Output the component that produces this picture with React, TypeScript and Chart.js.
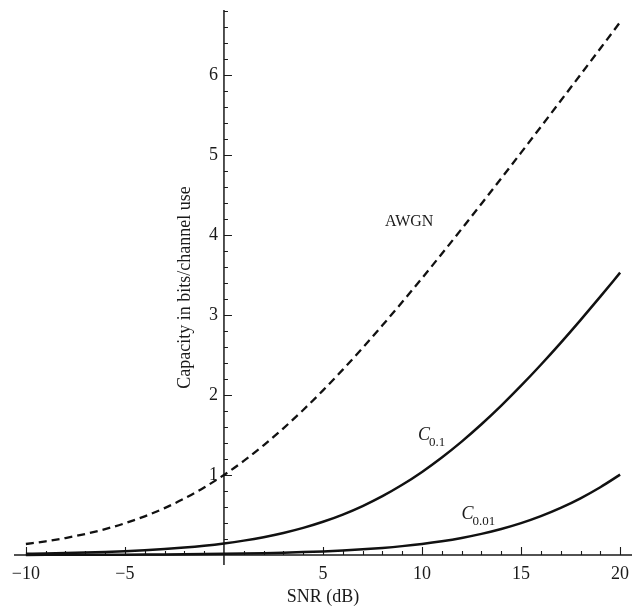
import React, { useEffect, useRef } from "react";
import { Chart, registerables } from "chart.js";

Chart.register(...registerables);

const snrDb = [-10, -9, -8, -7, -6, -5, -4, -3, -2, -1, 0, 1, 2, 3, 4, 5, 6, 7, 8, 9, 10, 11, 12, 13, 14, 15, 16, 17, 18, 19, 20];

const awgn = [0.1375, 0.1711, 0.2122, 0.2625, 0.3233, 0.3964, 0.4835, 0.5861, 0.7057, 0.8434, 1.0, 1.1756, 1.3701, 1.5827, 1.8122, 2.0574, 2.3165, 2.5878, 2.8698, 3.1608, 3.4594, 3.7643, 4.0746, 4.3891, 4.7071, 5.0278, 5.3509, 5.6758, 6.0022, 6.3297, 6.6582];

const c01 = [0.0151, 0.019, 0.0239, 0.03, 0.0377, 0.0473, 0.0593, 0.0742, 0.0929, 0.116, 0.1445, 0.1797, 0.2228, 0.2753, 0.3387, 0.4149, 0.5053, 0.6117, 0.7353, 0.8773, 1.0381, 1.2181, 1.4168, 1.6333, 1.8665, 2.115, 2.377, 2.6509, 2.9351, 3.2279, 3.5281];

const c001 = [0.0014, 0.0018, 0.0023, 0.0029, 0.0036, 0.0046, 0.0058, 0.0072, 0.0091, 0.0115, 0.0144, 0.0181, 0.0228, 0.0286, 0.036, 0.0451, 0.0566, 0.0709, 0.0887, 0.1108, 0.1382, 0.1719, 0.2132, 0.2637, 0.3248, 0.3981, 0.4855, 0.5885, 0.7085, 0.8466, 1.0036];

const xTickLabels = [-10, -5, 5, 10, 15, 20];
const yTickLabels = [1, 2, 3, 4, 5, 6];
const xTitle = "SNR (dB)";
const yTitle = "Capacity in bits/channel use";

// curve labels: [main, subscript, x, y] in data coords (centre of main glyph)
const curveLabels: [string, string, number, number][] = [
  ["AWGN", "", 9.35, 4.16],
  ["C", "0.1", 10.1, 1.49],
  ["C", "0.01", 12.3, 0.51],
];

const SERIF = "'Liberation Serif', 'DejaVu Serif', serif";

const axesPlugin = {
  id: "mmaAxes",
  beforeDatasetsDraw(chart: any) {
    const ctx = chart.ctx as CanvasRenderingContext2D;
    const xs = chart.scales.x;
    const ys = chart.scales.y;
    const area = chart.chartArea;
    const x0 = xs.getPixelForValue(0);
    const y0 = ys.getPixelForValue(0);
    ctx.save();
    ctx.strokeStyle = "#1a1a1a";
    ctx.fillStyle = "#1a1a1a";
    ctx.lineWidth = 1.5;
    // axis lines
    ctx.beginPath();
    ctx.moveTo(area.left, y0);
    ctx.lineTo(area.right, y0);
    ctx.moveTo(x0, area.top);
    ctx.lineTo(x0, area.bottom);
    ctx.stroke();
    // x ticks
    ctx.lineWidth = 1.1;
    ctx.beginPath();
    for (let v = -10; v <= 20; v++) {
      if (v === 0) continue;
      const px = Math.round(xs.getPixelForValue(v)) + 0.5;
      const len = v % 5 === 0 ? 8 : 4;
      ctx.moveTo(px, y0);
      ctx.lineTo(px, y0 - len);
    }
    // y ticks
    for (let i = 1; i <= 34; i++) {
      const v = i * 0.2;
      if (v > ys.max) break;
      const py = Math.round(ys.getPixelForValue(v)) + 0.5;
      const len = i % 5 === 0 ? 8 : 4;
      ctx.moveTo(x0, py);
      ctx.lineTo(x0 + len, py);
    }
    ctx.stroke();
    // tick labels
    ctx.font = `18px ${SERIF}`;
    ctx.textAlign = "center";
    ctx.textBaseline = "middle";
    xTickLabels.forEach((v) => {
      const s = v < 0 ? "\u2212" + Math.abs(v) : String(v);
      ctx.fillText(s, xs.getPixelForValue(v), y0 + 19);
    });
    ctx.textAlign = "right";
    yTickLabels.forEach((v) => {
      ctx.fillText(String(v), x0 - 6, ys.getPixelForValue(v));
    });
    // axis titles
    ctx.font = `18px ${SERIF}`;
    ctx.textAlign = "center";
    ctx.fillText(xTitle, (area.left + area.right) / 2, 597);
    ctx.save();
    ctx.translate(185, (area.top + area.bottom) / 2);
    ctx.rotate(-Math.PI / 2);
    ctx.fillText(yTitle, 0, 0);
    ctx.restore();
    // curve labels
    curveLabels.forEach(([main, sub, lx, ly]) => {
      const px = xs.getPixelForValue(lx);
      const py = ys.getPixelForValue(ly);
      if (!sub) {
        ctx.font = `16px ${SERIF}`;
        ctx.textAlign = "center";
        ctx.fillText(main, px, py);
      } else {
        ctx.font = `italic 18px ${SERIF}`;
        ctx.textAlign = "left";
        const w = ctx.measureText(main).width;
        ctx.fillText(main, px - w / 2, py);
        ctx.font = `13px ${SERIF}`;
        ctx.fillText(sub, px + w / 2 - 1, py + 7);
      }
    });
    ctx.restore();
  },
};

export default function App() {
  const ref = useRef<HTMLCanvasElement>(null);
  useEffect(() => {
    if (!ref.current) return;
    const mk = (ys: number[]) => snrDb.map((x, i) => ({ x, y: ys[i] }));
    const chart = new Chart(ref.current, {
      type: "line",
      data: {
        datasets: [
          {
            label: "AWGN",
            data: mk(awgn),
            borderColor: "#111",
            borderWidth: 2.3,
            borderDash: [8, 5],
            pointRadius: 0,
            fill: false,
            cubicInterpolationMode: "monotone",
          },
          {
            label: "C0.1",
            data: mk(c01),
            borderColor: "#111",
            borderWidth: 2.5,
            pointRadius: 0,
            fill: false,
            cubicInterpolationMode: "monotone",
          },
          {
            label: "C0.01",
            data: mk(c001),
            borderColor: "#111",
            borderWidth: 2.5,
            pointRadius: 0,
            fill: false,
            cubicInterpolationMode: "monotone",
          },
        ],
      },
      options: {
        responsive: false,
        animation: false,
        layout: { padding: { left: 14, right: 0, top: 10, bottom: 43 } },
        plugins: { legend: { display: false }, tooltip: { enabled: false } },
        scales: {
          x: { type: "linear", display: false, min: -10.6, max: 20.6 },
          y: { type: "linear", display: false, min: -0.125, max: 6.81 },
        },
      },
      plugins: [axesPlugin],
    } as any);
    return () => chart.destroy();
  }, []);
  return (
    <div style={{ position: "absolute", left: 0, top: 0, width: 632, height: 608, background: "#fff" }}>
      <canvas ref={ref} width={632} height={608} />
    </div>
  );
}
